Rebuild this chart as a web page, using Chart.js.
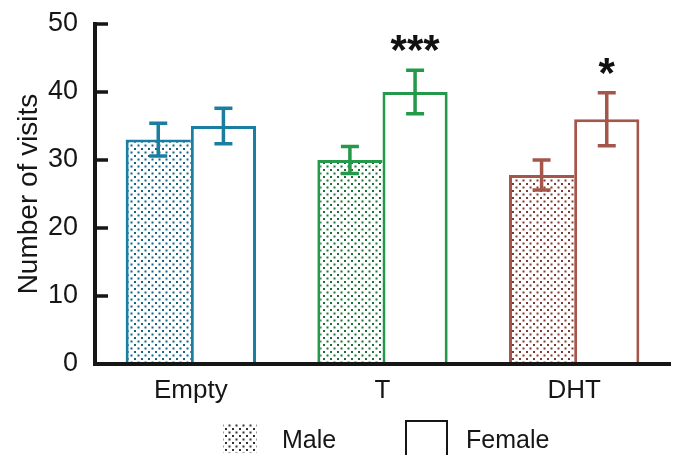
<!DOCTYPE html>
<html>
<head>
<meta charset="utf-8">
<script src="https://cdn.jsdelivr.net/npm/chart.js@4"></script>
<style>
  html, body { margin: 0; padding: 0; background: #fff; }
  #wrap { width: 680px; height: 455px; }
</style>
</head>
<body>
<div id="wrap"><canvas id="visitsChart" width="680" height="455"></canvas></div>
<script>
// data
const categories = ['Empty', 'T', 'DHT'];
const seriesNames = ['Male', 'Female'];
const maleVisits = [33, 30, 27.8];
const femaleVisits = [35, 40, 36];
const maleErr = [2.4, 2.0, 2.2];
const femaleErr = [2.6, 3.2, 3.9];
const stars = ['', '***', '*'];
const yTicks = [0, 10, 20, 30, 40, 50];

const groupColors = ['#1a7ea0', '#25994a', '#a5564a'];
const dotColors = ['#136383', '#1a7034', '#7e3a30'];
const axisColor = '#161616';
const fontFamily = "'Liberation Sans', Arial, sans-serif";

// dotted fill like the printed figure
function dotPattern(color) {
    const c = document.createElement('canvas');
    c.width = 7; c.height = 7;
    const g = c.getContext('2d');
    g.fillStyle = '#ffffff';
    g.fillRect(0, 0, 7, 7);
    g.fillStyle = color;
    g.fillRect(1, 1, 2, 2);
    g.fillRect(4.5, 4.5, 2, 2);
    return g.createPattern(c, 'repeat');
}

const errorBars = {
    id: 'errorBars',
    afterDatasetsDraw(chart) {
        const { ctx, scales: { y } } = chart;
        const errs = [maleErr, femaleErr];
        chart.data.datasets.forEach((ds, i) => {
            const meta = chart.getDatasetMeta(i);
            meta.data.forEach((bar, j) => {
                const v = ds.data[j];
                const top = y.getPixelForValue(v + errs[i][j]);
                const bot = y.getPixelForValue(v - errs[i][j]);
                ctx.save();
                ctx.strokeStyle = groupColors[j];
                ctx.lineWidth = 3.5;
                ctx.beginPath();
                ctx.moveTo(bar.x, top);
                ctx.lineTo(bar.x, bot);
                ctx.moveTo(bar.x - 9, top);
                ctx.lineTo(bar.x + 9, top);
                ctx.moveTo(bar.x - 9, bot);
                ctx.lineTo(bar.x + 9, bot);
                ctx.stroke();
                if (i === 1 && stars[j]) {
                    ctx.fillStyle = '#111';
                    ctx.font = 'bold 42px ' + fontFamily;
                    ctx.textAlign = 'center';
                    ctx.textBaseline = 'alphabetic';
                    ctx.fillText(stars[j], bar.x, top - 6);
                }
                ctx.restore();
            });
        });
    }
};

// inward ticks on the y axis
const inwardTicks = {
    id: 'inwardTicks',
    afterDraw(chart) {
        const { ctx, scales: { y } } = chart;
        ctx.save();
        ctx.strokeStyle = axisColor;
        ctx.lineWidth = 3.5;
        ctx.beginPath();
        yTicks.forEach(t => {
            const py = y.getPixelForValue(t);
            ctx.moveTo(y.right, py);
            ctx.lineTo(y.right + 13, py);
        });
        ctx.stroke();
        ctx.restore();
    }
};

const bottomLegend = {
    id: 'bottomLegend',
    afterDraw(chart) {
        const ctx = chart.ctx;
        ctx.save();
        ctx.fillStyle = dotPattern('#333333');
        ctx.fillRect(223, 423, 34, 30);
        ctx.strokeStyle = axisColor;
        ctx.lineWidth = 2;
        ctx.strokeRect(406, 421, 41, 40);
        ctx.fillStyle = '#161616';
        ctx.font = '25px ' + fontFamily;
        ctx.textBaseline = 'middle';
        ctx.textAlign = 'left';
        ctx.fillText(seriesNames[0], 282, 441);
        ctx.fillText(seriesNames[1], 466, 441);
        ctx.restore();
    }
};

const ctx = document.getElementById('visitsChart').getContext('2d');
new Chart(ctx, {
    type: 'bar',
    data: {
        labels: categories,
        datasets: [{
            label: seriesNames[0],
            data: maleVisits,
            backgroundColor: dotColors.map(c => dotPattern(c)),
            borderColor: groupColors,
            borderWidth: { top: 3, left: 3, right: 0, bottom: 0 },
            borderSkipped: false
        }, {
            label: seriesNames[1],
            data: femaleVisits,
            backgroundColor: '#ffffff',
            borderColor: groupColors,
            borderWidth: { top: 3, left: 3, right: 3, bottom: 0 },
            borderSkipped: false
        }]
    },
    options: {
        responsive: false,
        animation: false,
        datasets: { bar: { barPercentage: 1, categoryPercentage: 0.68 } },
        layout: { padding: { top: 24, right: 10, left: 0, bottom: 0 } },
        plugins: {
            legend: { display: false },
            tooltip: { enabled: false }
        },
        scales: {
            x: {
                grid: { display: false, drawTicks: false },
                border: { display: true, color: axisColor, width: 4, z: 1 },
                ticks: { color: '#161616', padding: 11, font: { family: fontFamily, size: 26 } },
                afterFit: s => { s.height = 91; }
            },
            y: {
                min: 0,
                max: 50,
                grid: { display: false, drawTicks: false },
                border: { display: true, color: axisColor, width: 4, z: 1 },
                afterBuildTicks: s => { s.ticks = yTicks.map(v => ({ value: v })); },
                ticks: { color: '#161616', padding: 17, font: { family: fontFamily, size: 27 } },
                title: {
                    display: true,
                    text: 'Number of visits',
                    color: '#161616',
                    font: { family: fontFamily, size: 28 },
                    padding: { top: 12, bottom: 0 }
                },
                afterFit: s => {
                    s.width = 95;
                    s.paddingTop = 0;
                    s.paddingBottom = 0;
                }
            }
        }
    },
    plugins: [errorBars, inwardTicks, bottomLegend]
});
</script>
</body>
</html>
